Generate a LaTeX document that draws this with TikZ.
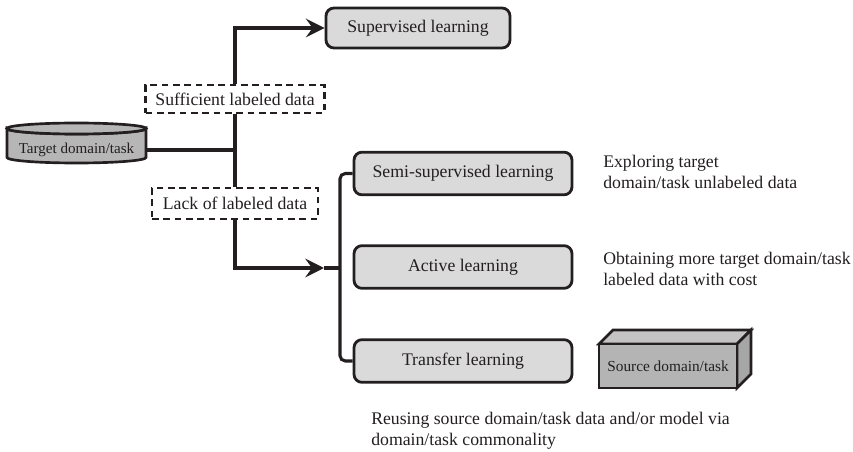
\documentclass[tikz,border=0pt]{standalone}
\usepackage{fontspec}
\setmainfont{Liberation Serif}
\usetikzlibrary{arrows.meta}
\definecolor{boxfill}{HTML}{DADADA}
\definecolor{cylfill}{HTML}{B6B6B6}
\definecolor{srcfront}{HTML}{B4B4B4}
\definecolor{srctop}{HTML}{C4C4C4}
\definecolor{srcside}{HTML}{A6A6A6}
\definecolor{ink}{HTML}{231F20}
\begin{document}
\begin{tikzpicture}[x=0.75pt,y=-0.75pt,
  every node/.style={font=\fontsize{13.3}{15.75}\selectfont, text=ink},
  learnbox/.style={draw=ink, line width=2.1pt, rounded corners=6pt, fill=boxfill,
     minimum width=163.5pt, minimum height=32pt, inner sep=0pt},
  condbox/.style={draw=ink, line width=1.8pt, dash pattern=on 5pt off 3.5pt, fill=white,
     minimum height=22pt, inner sep=0pt},
  conn/.style={draw=ink, line width=2.3pt},
  arr/.style={conn, -{Stealth[length=14pt,width=14pt,inset=5pt]}},
  note/.style={align=left, anchor=west, inner sep=0pt}
]
\useasboundingbox (0,0) rectangle (853,452);

% target cylinder
\draw[ink, line width=2pt, fill=cylfill]
  (7,128.5) -- (7,157.5) arc[start angle=180, end angle=0, x radius=69.5, y radius=5.5]
  -- (146,128.5) arc[start angle=0, end angle=180, x radius=69.5, y radius=5.5] -- cycle;
\draw[ink, line width=2pt, fill=cylfill] (76.5,128.5) ellipse[x radius=69.5, y radius=5.5];
\node[minimum width=104pt, minimum height=20pt, inner sep=0pt,
      font=\fontsize{11.3}{13}\selectfont] (target) at (76.5,150) {Target domain/task};

% boxes
\node[learnbox, minimum width=138pt, minimum height=30pt] (sup) at (418,28) {Supervised learning};
\node[condbox, minimum width=134pt, minimum height=21pt] (suff) at (235,99) {Sufficient labeled data};
\node[condbox, minimum width=124.5pt, minimum height=23pt] (lack) at (235,203.5) {Lack of labeled data};
\node[learnbox] (semi) at (463,173.5) {Semi-supervised learning};
\node[learnbox] (active) at (463,267) {Active learning};
\node[learnbox] (transfer) at (463,361) {Transfer learning};

% source box (3D)
\draw[ink, line width=2pt, fill=srctop] (599,344) -- (613,330) -- (751,330) -- (737,344) -- cycle;
\draw[ink, line width=2pt, fill=srcside] (737,344) -- (751,330) -- (751,374) -- (737,388) -- cycle;
\node[draw=ink, line width=2pt, fill=srcfront, minimum width=103.5pt, minimum height=33pt,
      inner sep=0pt, font=\fontsize{11.5}{13}\selectfont] (source) at (668,366) {Source domain/task};

% notes
\node[note] (n1) at (603,172) {Exploring target\\domain/task unlabeled data};
\node[note] (n2) at (603,269) {Obtaining more target domain/task\\labeled data with cost};
\node[note] (n3) at (371,431) {Reusing source domain/task data and/or model via\\domain/task commonality};

% connectors
\coordinate (tip) at (324,268);
\coordinate (brk) at (340,268);
\draw[conn] (target.east) -- (target.east -| suff.south);
\draw[conn] (suff.south) -- (lack.north);
\draw[arr] (suff.north) |- (sup.west);
\draw[arr] (lack.south) |- (tip);
\draw[conn] (tip) -- (brk);
\draw[conn, rounded corners=4pt] (semi.west) -- (semi.west -| brk) -- (transfer.west -| brk) -- (transfer.west);
\end{tikzpicture}
\end{document}
